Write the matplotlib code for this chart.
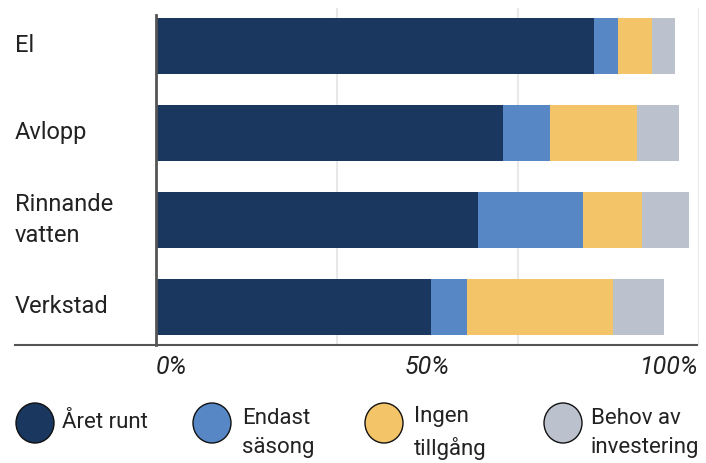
import matplotlib
matplotlib.use("Agg")
import matplotlib.pyplot as plt
from matplotlib.patches import Ellipse
from matplotlib.lines import Line2D
from matplotlib.transforms import blended_transform_factory
import numpy as np

plt.rcParams['font.family'] = ['Roboto', 'DejaVu Sans']

categories = ["El", "Avlopp", "Rinnande\nvatten", "Verkstad"]
series_names = ["Året runt", "Endast\nsäsong", "Ingen\ntillgång", "Behov av\ninvestering"]
aret_runt = [80.7, 63.9, 59.3, 50.6]
endast_sasong = [4.4, 8.7, 19.3, 6.6]
ingen_tillgang = [6.3, 16.0, 10.9, 26.9]
behov_investering = [4.1, 7.7, 8.7, 9.4]
colors = ["#19375f", "#5787c5", "#f3c468", "#bbc2ce"]
tick_vals = [0, 50, 100]
tick_labels = ["0%", "50%", "100%"]

W, H = 706, 463
fig = plt.figure(figsize=(W / 100, H / 100), dpi=100)
ax = fig.add_axes([156 / W, 1 - 345 / H, (699 - 156) / W, (345 - 8) / H])

y = np.arange(len(categories))
left = np.zeros(len(categories))
for vals, c in zip([aret_runt, endast_sasong, ingen_tillgang, behov_investering], colors):
    ax.barh(y, vals, left=left, height=0.644, color=c, zorder=3)
    left += np.array(vals)

ax.set_xlim(0, 100)
ax.set_ylim(3 + (345 - 307) / 87, -(46 - 8) / 87)

# light gridlines at thirds
for g in [100 / 3, 200 / 3, 100]:
    ax.axvline(g, color="#e8e8e8", lw=1.5, zorder=1)

for s in ["top", "right", "bottom"]:
    ax.spines[s].set_visible(False)
ax.spines["left"].set_color("#555555")
ax.spines["left"].set_linewidth(2)
ax.spines["left"].set_bounds(3 + (345 - 307) / 87, -(46 - 15) / 87)
ax.spines["left"].set_zorder(4)

ax.set_yticks([])
ax.set_xticks(tick_vals)
ax.set_xticklabels(tick_labels, fontsize=18, style="italic", color="#222222")
ax.tick_params(axis="x", length=0, pad=7)
for lab, ha in zip(ax.get_xticklabels(), ["left", "center", "right"]):
    lab.set_ha(ha)

# category labels
trans = blended_transform_factory(fig.transFigure, ax.transData)
for yi, cat in zip(y, categories):
    ax.text(15 / W, yi, cat, transform=trans,
            ha="left", va="center", fontsize=17, color="#222222", linespacing=1.4)

# bottom baseline
fig.add_artist(Line2D([15 / W, 697 / W], [1 - 345 / H, 1 - 345 / H], color="#555555", lw=1.5,
                      transform=fig.transFigure))

# legend drawn by hand
lax = fig.add_axes([0, 0, 1, 1])
lax.set_xlim(0, W)
lax.set_ylim(H, 0)
lax.axis("off")
circle_x = [35, 212, 384, 563]
text_x = [62, 242, 414, 591]
for cx, tx, name, c in zip(circle_x, text_x, series_names, colors):
    lax.add_patch(Ellipse((cx, 423), 38, 40, facecolor=c, edgecolor="#111111", lw=1))
    ty = 423 if "\n" not in name else 433
    lax.text(tx, ty, name, ha="left", va="center", fontsize=16, color="#222222", linespacing=1.55)

fig.savefig("out.png", dpi=100)
